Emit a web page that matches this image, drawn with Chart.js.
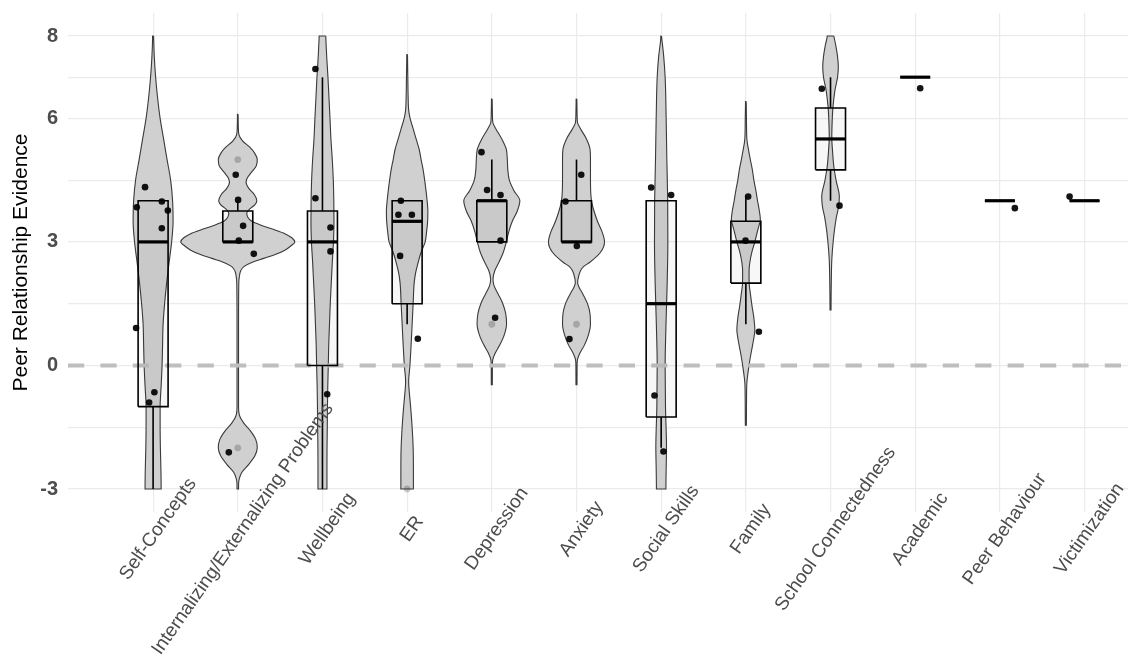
<!DOCTYPE html>
<html>
<head>
<meta charset="utf-8">
<script src="https://cdn.jsdelivr.net/npm/chart.js@4/dist/chart.umd.min.js"></script>
<style>
  html, body { margin: 0; padding: 0; background: #ffffff; overflow: hidden; }
  #wrap { width: 1132px; height: 657px; position: relative; }
</style>
</head>
<body>
<div id="wrap"><canvas id="chart"></canvas></div>
<script>
// Outcome domains on the x axis
const categories = [
  'Self-Concepts', 'Internalizing/Externalizing Problems', 'Wellbeing', 'ER',
  'Depression', 'Anxiety', 'Social Skills', 'Family', 'School Connectedness',
  'Academic', 'Peer Behaviour', 'Victimization'
];

// Box-plot summaries per domain
const whiskerLow  = [-3,   3,    -3,   1,   3, 3, -2,    1,   4,    7, 4, 4];
const quartile1   = [-1,   3,     0,   1.5, 3, 3, -1.25, 2,   4.75, 7, 4, 4];
const medians     = [ 3,   3,     3,   3.5, 4, 3,  1.5,  3,   5.5,  7, 4, 4];
const quartile3   = [ 4,   3.75,  3.75, 4,  4, 4,  4,    3.5, 6.25, 7, 4, 4];
const whiskerHigh = [ 4,   4,     7,   4,   5, 5,  4,    4.1, 7,    7, 4, 4];

// Outlying studies (domain index, value)
const outlierGroup  = [1, 1, 3, 4, 5];
const outlierValues = [5, -2, -3, 1, 1];

// Individual study estimates (domain index, value, horizontal jitter)
const pointGroup = [0,0,0,0,0,0,0,0, 1,1,1,1,1,1, 2,2,2,2,2, 3,3,3,3,3, 4,4,4,4,4, 5,5,5,5, 6,6,6,6, 7,7,7, 8,8, 9, 10, 11];
const pointValues = [
  4.33, 3.84, 3.98, 3.76, 3.33, 0.91, -0.65, -0.90,
  4.63, 4.02, 3.39, 3.03, 2.71, -2.11,
  7.2, 4.06, 3.35, 2.77, -0.70,
  4.0, 3.66, 3.66, 2.66, 0.65,
  5.18, 4.26, 4.14, 3.03, 1.16,
  4.63, 3.98, 2.90, 0.64,
  4.32, 4.14, -0.73, -2.09,
  4.10, 3.03, 0.82,
  6.72, 3.88,
  6.73,
  3.82,
  4.10
];
const pointJitter = [
  -0.095, -0.193, 0.103, 0.174, 0.103, -0.201, 0.015, -0.047,
  -0.024, 0.004, 0.063, 0.012, 0.189, -0.106,
  -0.083, -0.083, 0.095, 0.095, 0.056,
  -0.074, -0.103, 0.056, -0.083, 0.126,
  -0.122, -0.056, 0.103, 0.103, 0.039,
  0.056, -0.130, 0.004, -0.083,
  -0.118, 0.118, -0.079, 0.027,
  0.027, -0.004, 0.154,
  -0.103, 0.106,
  0.059,
  0.177,
  -0.177
];

// Violin density profiles: [value, half-width in category units]
const violinSelfConcepts = [[8,0.006],[7.5,0.014],[7,0.030],[6.5,0.053],[6,0.083],[5.5,0.124],[5,0.165],[4.5,0.207],[4,0.230],[3.5,0.236],[3,0.219],[2.5,0.189],[2,0.160],[1.5,0.136],[1,0.118],[0.5,0.112],[0,0.106],[-0.5,0.095],[-1,0.083],[-1.5,0.083],[-2,0.086],[-2.5,0.092],[-3,0.095]];
const violinProblems = [[6.1,0.004],[5.8,0.006],[5.6,0.014],[5.45,0.059],[5.3,0.142],[5.15,0.201],[5,0.230],[4.85,0.219],[4.7,0.165],[4.55,0.112],[4.45,0.098],[4.3,0.130],[4.15,0.195],[4,0.225],[3.9,0.201],[3.8,0.142],[3.7,0.106],[3.6,0.118],[3.5,0.165],[3.4,0.284],[3.3,0.426],[3.2,0.556],[3.1,0.638],[3,0.674],[2.9,0.626],[2.8,0.556],[2.7,0.449],[2.6,0.307],[2.5,0.165],[2.4,0.071],[2.3,0.035],[2.15,0.018],[2,0.012],[1,0.009],[0,0.009],[-1,0.009],[-1.2,0.018],[-1.4,0.071],[-1.6,0.154],[-1.8,0.213],[-2,0.230],[-2.2,0.201],[-2.4,0.130],[-2.6,0.047],[-2.75,0.018],[-2.9,0.009],[-3,0.009]];
const violinWellbeing = [[8,0.039],[7.8,0.043],[7.5,0.050],[7,0.065],[6.5,0.077],[6,0.089],[5.5,0.100],[5,0.116],[4.5,0.128],[4,0.134],[3.5,0.136],[3,0.130],[2.5,0.116],[2,0.104],[1.5,0.092],[1,0.083],[0.5,0.074],[0,0.069],[-0.5,0.063],[-1,0.059],[-1.5,0.057],[-2,0.054],[-2.5,0.053],[-3,0.053]];
const violinER = [[7.55,0.004],[7,0.008],[6.5,0.012],[6.2,0.018],[6,0.035],[5.75,0.071],[5.5,0.106],[5.25,0.142],[5,0.165],[4.75,0.189],[4.5,0.207],[4,0.236],[3.75,0.245],[3.5,0.242],[3.25,0.230],[3,0.213],[2.75,0.165],[2.5,0.130],[2.25,0.100],[2,0.083],[1.5,0.071],[1,0.059],[0.5,0.047],[0,0.033],[-0.4,0.018],[-0.75,0.030],[-1,0.041],[-1.5,0.059],[-2,0.071],[-2.5,0.074],[-3,0.074]];
const violinDepression = [[6.47,0.004],[6.1,0.007],[5.9,0.012],[5.75,0.047],[5.5,0.118],[5.25,0.171],[5,0.183],[4.75,0.189],[4.5,0.207],[4.25,0.260],[4,0.331],[3.75,0.301],[3.5,0.242],[3.25,0.201],[3,0.171],[2.75,0.136],[2.5,0.083],[2.3,0.035],[2.1,0.014],[1.95,0.024],[1.75,0.071],[1.5,0.130],[1.25,0.165],[1,0.174],[0.75,0.148],[0.5,0.095],[0.3,0.041],[0.15,0.012],[0,0.007],[-0.47,0.006]];
const violinAnxiety = [[6.47,0.004],[6.1,0.007],[5.9,0.012],[5.75,0.047],[5.5,0.118],[5.25,0.160],[5,0.165],[4.5,0.165],[4,0.177],[3.75,0.207],[3.5,0.248],[3.25,0.301],[3,0.331],[2.75,0.284],[2.5,0.154],[2.4,0.083],[2.3,0.047],[2.1,0.018],[2,0.014],[1.9,0.030],[1.75,0.071],[1.5,0.130],[1.25,0.160],[1,0.165],[0.75,0.142],[0.5,0.095],[0.3,0.041],[0.15,0.012],[0,0.007],[-0.47,0.006]];
const violinSocialSkills = [[8,0.004],[7.5,0.030],[7,0.047],[6,0.059],[5,0.067],[4,0.077],[3,0.079],[2,0.071],[1,0.057],[0,0.047],[-1,0.051],[-2,0.063],[-2.5,0.059],[-3,0.056]];
const violinFamily = [[6.41,0.004],[6,0.007],[5.5,0.012],[5.2,0.035],[5,0.053],[4.75,0.077],[4.5,0.095],[4.25,0.118],[4,0.138],[3.75,0.160],[3.55,0.171],[3.3,0.142],[3,0.106],[2.75,0.071],[2.5,0.047],[2.3,0.038],[2,0.039],[1.75,0.053],[1.43,0.074],[1.15,0.095],[0.86,0.106],[0.6,0.089],[0.38,0.069],[0.2,0.053],[0,0.038],[-0.2,0.024],[-0.42,0.012],[-0.8,0.008],[-1.45,0.006]];
const violinSchool = [[8,0.039],[7.8,0.059],[7.5,0.083],[7.26,0.092],[7,0.083],[6.69,0.053],[6.4,0.035],[6.2,0.026],[5.9,0.019],[5.52,0.015],[5.2,0.024],[4.83,0.039],[4.5,0.065],[4.1,0.104],[3.85,0.095],[3.62,0.071],[3.3,0.047],[2.98,0.030],[2.56,0.015],[2,0.009],[1.35,0.006]];
const violinProfiles = [
  violinSelfConcepts, violinProblems, violinWellbeing, violinER, violinDepression,
  violinAnxiety, violinSocialSkills, violinFamily, violinSchool, [], [], []
];

// y-axis breaks
const yMajorTicks = [-3, 0, 3, 6, 8];
const yMinorTicks = [-1.5, 1.5, 4.5, 7];

// ---- styling ----
const BOX_HALF = 0.177;
const X_MIN = -1.005;
const X_MAX = 11.513;
const FONT = '"Liberation Sans", Arial, Helvetica, sans-serif';
const LABEL_ANGLE = 55;

const datasets = [];

// violins
violinProfiles.forEach((profile, i) => {
  if (!profile.length) return;
  const right = profile.map(([v, w]) => ({ x: i + w, y: v }));
  const left = profile.slice().reverse().map(([v, w]) => ({ x: i - w, y: v }));
  const outline = right.concat(left);
  outline.push({ ...outline[0] });
  datasets.push({
    type: 'line', data: outline, indexAxis: 'y',
    cubicInterpolationMode: 'monotone',
    fill: 'shape', backgroundColor: '#d0d0d0',
    borderColor: '#3a3a3a', borderWidth: 1.1,
    pointRadius: 0, order: 6
  });
});

// reference line at zero
datasets.push({
  type: 'line', data: [{ x: X_MIN, y: 0 }, { x: X_MAX, y: 0 }],
  borderColor: '#bebebe', borderWidth: 4, borderDash: [16.2, 16.2],
  borderCapStyle: 'butt', pointRadius: 0, fill: false, order: 5
});

// boxes, whiskers, medians
categories.forEach((_, i) => {
  datasets.push({
    type: 'line',
    data: [
      { x: i - BOX_HALF, y: quartile1[i] }, { x: i + BOX_HALF, y: quartile1[i] },
      { x: i + BOX_HALF, y: quartile3[i] }, { x: i - BOX_HALF, y: quartile3[i] },
      { x: i - BOX_HALF, y: quartile1[i] }
    ],
    fill: 'shape', backgroundColor: 'rgba(0,0,0,0.03)',
    borderColor: '#000000', borderWidth: 1.6, borderJoinStyle: 'miter',
    pointRadius: 0, tension: 0, order: 3
  });
  datasets.push({
    type: 'line',
    data: [
      { x: i, y: quartile3[i] }, { x: i, y: whiskerHigh[i] }, { x: i, y: null },
      { x: i, y: quartile1[i] }, { x: i, y: whiskerLow[i] }
    ],
    borderColor: '#000000', borderWidth: 1.6, borderCapStyle: 'butt',
    pointRadius: 0, fill: false, spanGaps: false, order: 3
  });
  datasets.push({
    type: 'line',
    data: [{ x: i - BOX_HALF, y: medians[i] }, { x: i + BOX_HALF, y: medians[i] }],
    borderColor: '#000000', borderWidth: 3.2, borderCapStyle: 'butt',
    pointRadius: 0, fill: false, order: 2
  });
});

// outliers
datasets.push({
  type: 'scatter',
  data: outlierGroup.map((g, k) => ({ x: g, y: outlierValues[k] })),
  backgroundColor: 'rgba(0,0,0,0.2)', borderWidth: 0, pointRadius: 3.4, order: 1
});

// jittered study points
datasets.push({
  type: 'scatter',
  data: pointGroup.map((g, k) => ({ x: g + pointJitter[k], y: pointValues[k] })),
  backgroundColor: 'rgba(0,0,0,0.92)', borderWidth: 0, pointRadius: 3.3, order: 0
});

// rotated category labels under the panel
const rotatedLabels = {
  id: 'rotatedLabels',
  afterDraw(chart) {
    const { ctx, scales: { x }, chartArea } = chart;
    ctx.save();
    ctx.font = '19px ' + FONT;
    ctx.fillStyle = '#4d4d4d';
    ctx.textAlign = 'center';
    ctx.textBaseline = 'middle';
    categories.forEach((label, i) => {
      ctx.save();
      ctx.translate(x.getPixelForValue(i) + 5, chartArea.bottom + 17);
      ctx.rotate(-LABEL_ANGLE * Math.PI / 180);
      ctx.fillText(label, 0, 0);
      ctx.restore();
    });
    ctx.restore();
  }
};

new Chart(document.getElementById('chart'), {
  type: 'scatter',
  data: { datasets },
  plugins: [rotatedLabels],
  options: {
    responsive: true,
    maintainAspectRatio: false,
    animation: false,
    devicePixelRatio: 1,
    layout: { padding: { top: 13, left: 0, right: -4, bottom: 0 } },
    plugins: { legend: { display: false }, tooltip: { enabled: false } },
    scales: {
      x: {
        type: 'linear', min: X_MIN, max: X_MAX,
        afterBuildTicks: (s) => { s.ticks = categories.map((_, i) => ({ value: i })); },
        afterFit: (s) => { s.height = 145; s.paddingLeft = 0; s.paddingRight = 0; },
        ticks: { display: false },
        grid: { color: '#ebebeb', lineWidth: 1.2, drawTicks: false },
        border: { display: false }
      },
      y: {
        type: 'linear', min: -3.5585, max: 8.5585,
        afterBuildTicks: (s) => {
          s.ticks = yMajorTicks.concat(yMinorTicks).sort((a, b) => a - b).map(v => ({ value: v }));
        },
        afterFit: (s) => { s.width = 68; s.paddingTop = 0; s.paddingBottom = 0; },
        ticks: {
          padding: 10,
          color: '#4d4d4d',
          font: { family: FONT, size: 20, weight: 'bold' },
          callback: (v) => (yMajorTicks.includes(v) ? String(v) : '')
        },
        grid: { color: '#ebebeb', lineWidth: 1.2, drawTicks: false },
        border: { display: false },
        title: {
          display: true, text: 'Peer Relationship Evidence',
          color: '#000000', font: { family: FONT, size: 21 },
          padding: { top: 9, bottom: 0 }
        }
      }
    }
  }
});
</script>
</body>
</html>
